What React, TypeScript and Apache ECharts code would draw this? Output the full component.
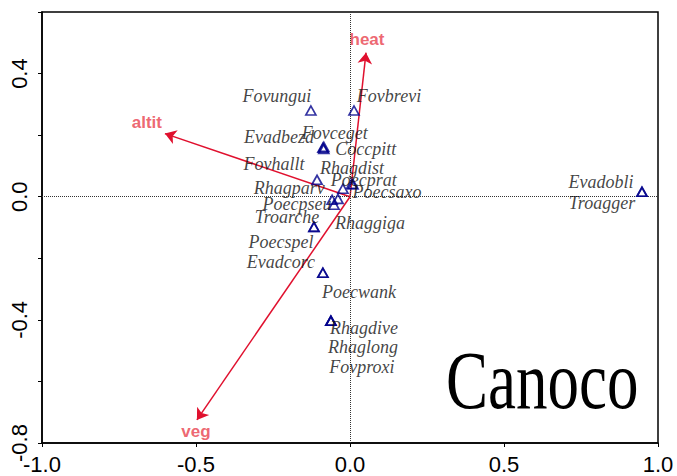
import React, { useEffect, useRef } from "react";
import * as echarts from "echarts";

// Species scores (triangles)
const speciesNames = [
  "Fovungui", "Fovbrevi", "Evadbezd", "Fovceget", "Coccpitt", "Fovhallt",
  "Rhagdist", "Poecprat", "Poecsaxo", "Rhagparv", "Poecpseu", "Rhaggiga",
  "Troarche", "Poecspel", "Evadcorc", "Poecwank", "Rhagdive", "Rhaglong",
  "Fovproxi", "Evadobli", "Troagger",
];
const speciesX = [
  -0.127, 0.013, -0.088, -0.085, -0.085, -0.107,
  -0.023, 0.006, 0.010, -0.058, -0.039, -0.052,
  -0.117, -0.117, -0.088, -0.088, -0.062, -0.062,
  -0.062, 0.948, 0.948,
];
const speciesY = [
  0.280, 0.280, 0.159, 0.162, 0.155, 0.055,
  0.026, 0.042, 0.040, -0.010, -0.007, -0.026,
  -0.098, -0.098, -0.247, -0.247, -0.403, -0.403,
  -0.403, 0.016, 0.016,
];

// Environmental variables (arrows)
const envNames = ["heat", "altit", "veg"];
const envX = [0.052, -0.601, -0.497];
const envY = [0.468, 0.205, -0.725];

// Axis ticks
const xTicks = [-1.0, -0.5, 0.0, 0.5, 1.0];
const yLabelTicks = [-0.8, -0.4, 0.0, 0.4];

// label placement (pixels, style only)
const speciesLabelOffset: Record<string, [number, number]> = {
  Fovungui: [-34, -15], Fovbrevi: [35, -15], Evadbezd: [-44, -11],
  Fovceget: [11, -14], Coccpitt: [42, 0], Fovhallt: [-43, -16],
  Rhagdist: [9, -21], Poecprat: [12, -4], Poecsaxo: [34, 8],
  Rhagparv: [-43, -12], Poecpseu: [-41, 5], Rhaggiga: [36, 18],
  Troarche: [-27, -10], Poecspel: [-33, 15], Evadcorc: [-42, -11],
  Poecwank: [36, 19], Rhagdive: [33, 7], Rhaglong: [32, 26],
  Fovproxi: [31, 46], Evadobli: [-41, -10], Troagger: [-40, 11],
};
const envLabelOffset: Record<string, [number, number]> = {
  heat: [1, -13], altit: [-18, -11], veg: [-1, 12],
};

export default function App() {
  const ref = useRef<HTMLDivElement>(null);
  useEffect(() => {
    if (!ref.current) return;
    const chart = echarts.init(ref.current, null, { renderer: "svg" });
    const speciesPts = speciesNames.map((n, i) => ({
      name: n,
      value: [speciesX[i], speciesY[i]],
    }));
    const speciesLabels = speciesNames.map((n, i) => ({
      name: n,
      value: [speciesX[i], speciesY[i]],
      label: { offset: speciesLabelOffset[n] },
    }));
    const envLines = envNames.map((n, i) => ({
      name: n,
      coords: [[0, 0], [envX[i], envY[i]]],
    }));
    const envTips = envNames.map((n, i) => ({
      name: n,
      value: [envX[i], envY[i]],
      label: { offset: envLabelOffset[n] },
    }));
    chart.setOption({
      animation: false,
      backgroundColor: "#ffffff",
      grid: {
        left: 42, right: 19, top: 12, bottom: 33,
        show: true, borderColor: "#000", borderWidth: 1.5,
        containLabel: false, outerBoundsMode: "none",
      },
      xAxis: {
        type: "value", min: -1, max: 1, interval: 0.5,
        axisLine: { onZero: false, lineStyle: { color: "#000", width: 1.5 } },
        axisTick: { show: true, inside: false, length: 4, lineStyle: { color: "#000" } },
        splitLine: { show: false },
        axisLabel: {
          color: "#000", fontSize: 22, fontFamily: "Liberation Sans, Arial, sans-serif",
          margin: 10, lineHeight: 22,
          formatter: (v: number) => (xTicks.some((t) => Math.abs(t - v) < 1e-6) ? (Math.abs(v) < 1e-9 ? "0.0" : v.toFixed(1)) : ""),
        },
      },
      yAxis: {
        type: "value", min: -0.8, max: 0.6, interval: 0.2,
        axisLine: { onZero: false, lineStyle: { color: "#000", width: 1.5 } },
        axisTick: { show: true, inside: false, length: 4, lineStyle: { color: "#000" } },
        splitLine: { show: false },
        axisLabel: {
          color: "#000", fontSize: 22, fontFamily: "Liberation Sans, Arial, sans-serif",
          rotate: 90, margin: 12, lineHeight: 22,
          formatter: (v: number) =>
            yLabelTicks.some((t) => Math.abs(t - v) < 1e-6) ? (Math.abs(v) < 1e-9 ? "0.0" : v.toFixed(1)) : "",
        },
      },
      series: [
        {
          type: "lines",
          coordinateSystem: "cartesian2d",
          silent: true,
          symbol: ["none", "arrow"],
          symbolSize: 11,
          lineStyle: { color: "#e0102e", width: 1.5, opacity: 1, curveness: 0 },
          data: envLines,
          z: 3,
        },
        {
          type: "scatter",
          symbolSize: 0,
          silent: true,
          data: envTips,
          label: {
            show: true, position: "inside", formatter: "{b}",
            color: "#e8404c", fontSize: 17, fontWeight: "bold",
            fontFamily: "Liberation Sans, Arial, sans-serif",
          },
          z: 4,
        },
        {
          type: "scatter",
          symbol: "triangle",
          symbolSize: [10, 9],
          silent: true,
          itemStyle: { color: "rgba(255,255,255,0)", borderColor: "#00008b", borderWidth: 1.7 },
          data: speciesPts,
          markLine: {
            silent: true, symbol: "none", animation: false,
            label: { show: false },
            lineStyle: { type: "dotted", color: "#333", width: 1 },
            data: [{ xAxis: 0 }, { yAxis: 0 }],
          },
          z: 5,
        },
        {
          type: "scatter",
          symbolSize: 0,
          silent: true,
          data: speciesLabels,
          label: {
            show: true, position: "inside", formatter: "{b}",
            color: "#111", fontSize: 18, fontStyle: "italic",
            fontFamily: "Liberation Serif, Times New Roman, serif",
          },
          z: 6,
        },
      ],
      graphic: [
        {
          type: "text",
          x: 446, y: 381, scaleY: 1.3,
          style: {
            text: "Canoco", fill: "#000",
            font: "normal 63px 'Liberation Serif', 'Times New Roman', serif",
            align: "left", verticalAlign: "middle",
          },
          z: 10,
        },
      ],
    });
    return () => chart.dispose();
  }, []);
  return (
    <div
      ref={ref}
      style={{ position: "fixed", left: 0, top: 0, width: 677, height: 476 }}
    />
  );
}
